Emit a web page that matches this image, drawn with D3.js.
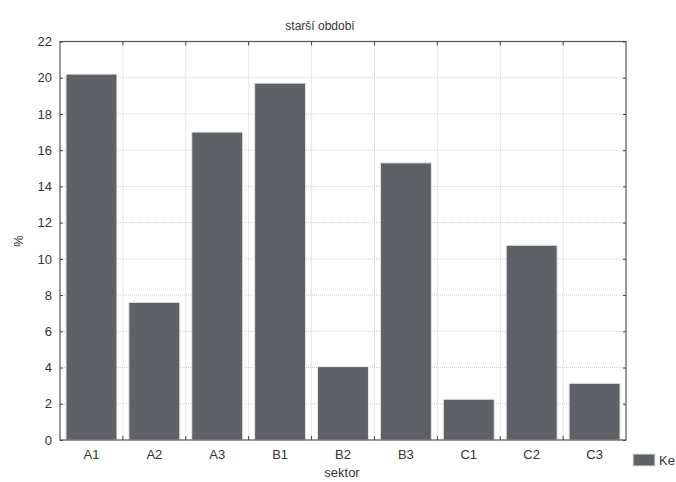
<!DOCTYPE html>
<html><head><meta charset="utf-8">
<script src="https://cdn.jsdelivr.net/npm/d3@7"></script>
<style>body{margin:0;background:#fff;overflow:hidden}svg{display:block}</style>
</head><body>
<script>
const categories = ["A1","A2","A3","B1","B2","B3","C1","C2","C3"];
const values = [20.2, 7.6, 17.0, 19.7, 4.05, 15.3, 2.25, 10.75, 3.13];
const yTicks = [0,2,4,6,8,10,12,14,16,18,20,22];
const title = "starší období";
const xTitle = "sektor";
const yTitle = "%";
const legendLabel = "Ke";

const W = 676, H = 482;
const m = {left:60, right:50, top:41.5, bottom:42};
const font = "'Liberation Sans', Arial, sans-serif";
const svg = d3.select("body").append("svg").attr("width", W).attr("height", H)
  .style("font-family", font);

const x = d3.scaleBand().domain(categories).range([m.left, W - m.right]).paddingInner(0.19).paddingOuter(0.095);
const y = d3.scaleLinear().domain([0,22]).range([H - m.bottom, m.top]);
const bounds = d3.range(categories.length + 1).map(i => m.left + i * (W - m.right - m.left) / categories.length);

// grid
const g = svg.append("g");
g.selectAll(".hg").data(yTicks.slice(1, -1)).join("line")
  .attr("x1", m.left).attr("x2", W - m.right).attr("y1", d => y(d)).attr("y2", d => y(d))
  .attr("stroke", "#cfcfcf").attr("stroke-width", 1).attr("stroke-dasharray", "1,1");
g.selectAll(".vg").data(bounds.slice(1, -1)).join("line")
  .attr("x1", d => d).attr("x2", d => d).attr("y1", m.top).attr("y2", H - m.bottom)
  .attr("stroke", "#cfcfcf").attr("stroke-width", 1).attr("stroke-dasharray", "1,1");

// bars
svg.selectAll(".bar").data(values).join("rect")
  .attr("x", (d, i) => x(categories[i])).attr("width", x.bandwidth())
  .attr("y", d => y(d)).attr("height", d => y(0) - y(d))
  .attr("fill", "#5e6165").attr("stroke", "#e6e6e6").attr("stroke-width", 1);

// frame
svg.append("rect").attr("x", m.left).attr("y", m.top)
  .attr("width", W - m.right - m.left).attr("height", H - m.bottom - m.top)
  .attr("fill", "none").attr("stroke", "#555").attr("stroke-width", 1.2);

// y axes ticks inward
const yAxisL = d3.axisLeft(y).tickValues(yTicks).tickSize(-3).tickPadding(8).tickFormat(d3.format("d"));
const ayl = svg.append("g").attr("transform", `translate(${m.left},0)`).call(yAxisL);
ayl.select(".domain").remove();
ayl.selectAll("line").attr("stroke", "#444");
ayl.selectAll("text").attr("font-size", 13).attr("fill", "#333").attr("font-family", font);

const yAxisR = d3.axisRight(y).tickValues(yTicks).tickSize(-3).tickFormat("");
const ayr = svg.append("g").attr("transform", `translate(${W - m.right},0)`).call(yAxisR);
ayr.select(".domain").remove();
ayr.selectAll("line").attr("stroke", "#444");

// x ticks at boundaries (inward) top and bottom
svg.selectAll(".xtb").data(bounds.slice(1, -1)).join("line")
  .attr("x1", d => d).attr("x2", d => d).attr("y1", H - m.bottom).attr("y2", H - m.bottom - 4)
  .attr("stroke", "#444");
svg.selectAll(".xtt").data(bounds.slice(1, -1)).join("line")
  .attr("x1", d => d).attr("x2", d => d).attr("y1", m.top).attr("y2", m.top + 4)
  .attr("stroke", "#444");

// x labels
const xAxis = d3.axisBottom(x).tickSize(0).tickPadding(10);
const ax = svg.append("g").attr("transform", `translate(0,${H - m.bottom})`).call(xAxis);
ax.select(".domain").remove();
ax.selectAll("text").attr("font-size", 13).attr("fill", "#333").attr("font-family", font);

// titles
svg.append("text").attr("x", 320).attr("y", 30).attr("text-anchor", "middle")
  .attr("font-size", 12).attr("fill", "#333").text(title);
svg.append("text").attr("x", 342).attr("y", 477).attr("text-anchor", "middle")
  .attr("font-size", 13).attr("fill", "#333").text(xTitle);
svg.append("text").attr("transform", "translate(23,241) rotate(-90)").attr("text-anchor", "middle")
  .attr("font-size", 13).attr("fill", "#333").text(yTitle);

// legend
svg.append("rect").attr("x", 633).attr("y", 454).attr("width", 22).attr("height", 12)
  .attr("fill", "#5e6165").attr("stroke", "#e6e6e6");
svg.append("text").attr("x", 659).attr("y", 465).attr("font-size", 13).attr("fill", "#333").text(legendLabel);
</script>
</body></html>
